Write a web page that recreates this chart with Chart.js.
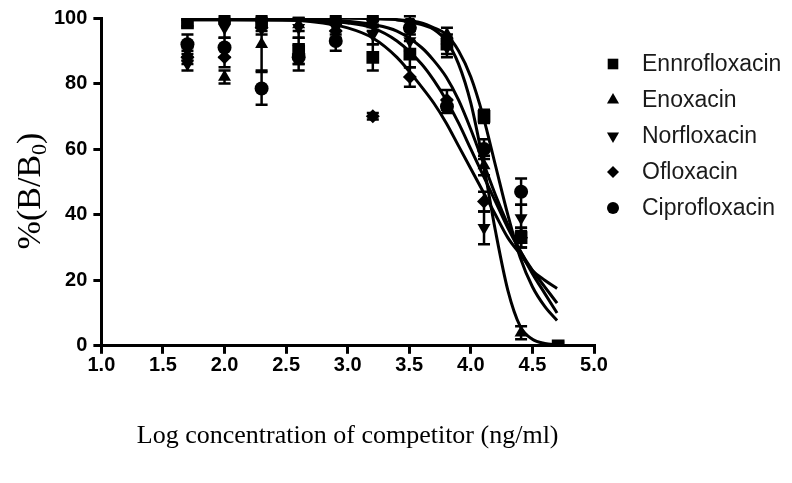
<!DOCTYPE html>
<html>
<head>
<meta charset="utf-8">
<script src="https://cdn.jsdelivr.net/npm/chart.js@4"></script>
<style>
  html, body { margin: 0; padding: 0; background: #fff; }
  #wrap { width: 792px; height: 483px; }
</style>
</head>
<body>
<div id="wrap"><canvas id="myChart"></canvas></div>
<script>
// log10 of competitor concentration
const logConc = [1.699, 2.0, 2.301, 2.602, 2.903, 3.204, 3.505, 3.806, 4.107, 4.408, 4.709];
const drugs = ['Ennrofloxacin', 'Enoxacin', 'Norfloxacin', 'Ofloxacin', 'Ciprofloxacin'];

// measured %(B/B0), mean and error
const enroMean  = [98.5, 100, 99, 90, 100, 88, 89, 92, 70, 33, 0];
const enroErr   = [1, 1, 2, 4, 1, 4, 4, 3, 2, 3, 1];
const enoxMean  = [89, 82, 92, 98, 99, 98, 100, 95, 55, 4, null];
const enoxErr   = [2, 2, 8, 2, 1, 2, 1, 2, 3, 2, 0];
const norfMean  = [86, 97, 98, 97, 97, 95, 93, 91, 36, 39, null];
const norfErr   = [2, 3, 2, 3, 2, 3, 3, 3, 5, 4, 0];
const ofloxMean = [88, 88, 97, 89, 96, 70, 82, 75, 44, 33, null];
const ofloxErr  = [2, 3, 2, 3, 2, 1, 3, 3, 3, 3, 0];
const ciproMean = [92, 91, 78.5, 88, 93, 100, 97, 73, 60, 47, null];
const ciproErr  = [3, 3, 5, 4, 3, 1, 2, 2, 3, 4, 0];

// fitted curves
const curveX   = [1.7, 2.0, 2.5, 2.8, 3.0, 3.2, 3.4, 3.6, 3.7, 3.8, 3.9, 4.0, 4.1, 4.2, 4.3, 4.4, 4.5, 4.6, 4.7];
const enroFit  = [100, 100, 100, 100, 100, 99.8, 99.5, 98.5, 97, 95, 90, 82, 70, 55, 40, 27, 18, 12, 7.7];
const enoxFit  = [100, 100, 100, 100, 100, 99.8, 99.5, 98, 96.5, 93, 86, 74, 56, 35, 17, 6, 2, 0.7, 0.3];
const norfFit  = [99.5, 99.5, 99.5, 99.3, 99, 98, 96, 91, 87, 82, 75, 66, 56, 46, 37, 29, 22, 16, 10];
const ciproFit = [99.5, 99.5, 99.3, 99, 98.5, 97, 93, 86, 81, 75, 68, 60, 52, 44, 36, 29, 23, 18, 13];
const ofloxFit = [100, 99.8, 99.5, 98.5, 97, 94, 88, 79, 74, 68, 61, 54, 47, 40, 33, 28, 23, 20, 17.5];

const means = [enroMean, enoxMean, norfMean, ofloxMean, ciproMean];
const errs = [enroErr, enoxErr, norfErr, ofloxErr, ciproErr];
const fits = [enroFit, enoxFit, norfFit, ofloxFit, ciproFit];
const styles = [
    { pointStyle: 'rect', radius: 9, legendRadius: 7.5, rotation: 0 },
    { pointStyle: 'triangle', radius: 7.5, legendRadius: 7, rotation: 0 },
    { pointStyle: 'triangle', radius: 7.5, legendRadius: 7, rotation: 180 },
    { pointStyle: 'rectRot', radius: 7, legendRadius: 6, rotation: 0 },
    { pointStyle: 'circle', radius: 7, legendRadius: 6, rotation: 0 }
];

function toPoints(xs, ys) {
    let out = [];
    for (let i = 0; i < xs.length; i++) {
        if (ys[i] !== null) out.push({ x: xs[i], y: ys[i] });
    }
    return out;
}

let datasets = [];
for (let i = 0; i < drugs.length; i++) {
    datasets.push({
        label: drugs[i] + ' fit',
        data: toPoints(curveX, fits[i]),
        showLine: true,
        borderColor: '#000',
        borderWidth: 3,
        pointRadius: 0,
        cubicInterpolationMode: 'monotone',
        fill: false
    });
}
for (let i = 0; i < drugs.length; i++) {
    datasets.push({
        label: drugs[i],
        data: toPoints(logConc, means[i]),
        showLine: false,
        pointStyle: styles[i].pointStyle,
        pointRotation: styles[i].rotation,
        pointRadius: styles[i].radius,
        backgroundColor: '#000',
        borderColor: '#000',
        borderWidth: 0
    });
}

const errorBars = {
    id: 'errorBars',
    afterDatasetsDraw(chart) {
        const ctx = chart.ctx;
        const xs = chart.scales.x, ys = chart.scales.y;
        ctx.save();
        ctx.strokeStyle = '#000';
        ctx.lineWidth = 2.5;
        for (let i = 0; i < drugs.length; i++) {
            for (let j = 0; j < logConc.length; j++) {
                if (means[i][j] === null || !errs[i][j]) continue;
                const px = xs.getPixelForValue(logConc[j]);
                const top = ys.getPixelForValue(Math.min(means[i][j] + errs[i][j], 100.5));
                const bot = ys.getPixelForValue(Math.max(means[i][j] - errs[i][j], 0));
                ctx.beginPath();
                ctx.moveTo(px, top); ctx.lineTo(px, bot);
                ctx.moveTo(px - 6, top); ctx.lineTo(px + 6, top);
                ctx.moveTo(px - 6, bot); ctx.lineTo(px + 6, bot);
                ctx.stroke();
            }
        }
        ctx.restore();
    }
};

const sideLegend = {
    id: 'sideLegend',
    afterDraw(chart) {
        const ctx = chart.ctx;
        ctx.save();
        ctx.font = '23px "Liberation Sans", Arial, sans-serif';
        ctx.textBaseline = 'middle';
        ctx.textAlign = 'left';
        for (let i = 0; i < drugs.length; i++) {
            const y = 64 + i * 36;
            ctx.fillStyle = '#000';
            Chart.helpers.drawPoint(ctx, {
                pointStyle: styles[i].pointStyle,
                rotation: styles[i].rotation,
                radius: styles[i].legendRadius,
                borderWidth: 0
            }, 613, y);
            ctx.fillStyle = '#1a1a1a';
            ctx.fillText(drugs[i], 642, y + 1);
        }
        ctx.restore();
    }
};

// y title with a real subscript
const yTitle = {
    id: 'yTitle',
    afterDraw(chart) {
        const ctx = chart.ctx;
        const main = '%(B/B', sub = '0', tail = ')';
        ctx.save();
        ctx.translate(31, 191);
        ctx.rotate(-Math.PI / 2);
        ctx.fillStyle = '#000';
        ctx.textBaseline = 'alphabetic';
        ctx.textAlign = 'left';
        const bigFont = '34px "Liberation Serif", "Times New Roman", serif';
        const smallFont = '22px "Liberation Serif", "Times New Roman", serif';
        ctx.font = bigFont;
        const w1 = ctx.measureText(main).width, w3 = ctx.measureText(tail).width;
        ctx.font = smallFont;
        const w2 = ctx.measureText(sub).width;
        let x = -(w1 + w2 + w3) / 2;
        ctx.font = bigFont;
        ctx.fillText(main, x, 9);
        ctx.font = smallFont;
        ctx.fillText(sub, x + w1, 15);
        ctx.font = bigFont;
        ctx.fillText(tail, x + w1 + w2, 9);
        ctx.restore();
    }
};

const tickFont = { family: '"Liberation Sans", Arial, sans-serif', size: 20, weight: 'bold' };

new Chart('myChart', {
    type: 'scatter',
    data: { datasets: datasets },
    plugins: [errorBars, sideLegend, yTitle],
    options: {
        responsive: true,
        maintainAspectRatio: false,
        animation: false,
        layout: { padding: { left: 48, right: 198, top: 17, bottom: 31 } },
        plugins: {
            legend: { display: false },
            tooltip: { enabled: false }
        },
        scales: {
            x: {
                type: 'linear',
                min: 1, max: 5,
                ticks: {
                    stepSize: 0.5,
                    color: '#000',
                    font: tickFont,
                    padding: 0,
                    callback: v => v.toFixed(1)
                },
                grid: { drawOnChartArea: false, drawTicks: true, tickLength: 8, lineWidth: 3, color: '#000' },
                border: { width: 3, color: '#000' },
                title: {
                    display: true,
                    text: 'Log concentration of competitor (ng/ml)',
                    color: '#000',
                    font: { family: '"Liberation Serif", "Times New Roman", serif', size: 26 },
                    padding: { top: 43, bottom: 0 }
                }
            },
            y: {
                min: 0, max: 100,
                ticks: { stepSize: 20, color: '#000', font: tickFont, padding: 6 },
                grid: { drawOnChartArea: false, drawTicks: true, tickLength: 8, lineWidth: 3, color: '#000' },
                border: { width: 3, color: '#000' }
            }
        }
    }
});
</script>
</body>
</html>
